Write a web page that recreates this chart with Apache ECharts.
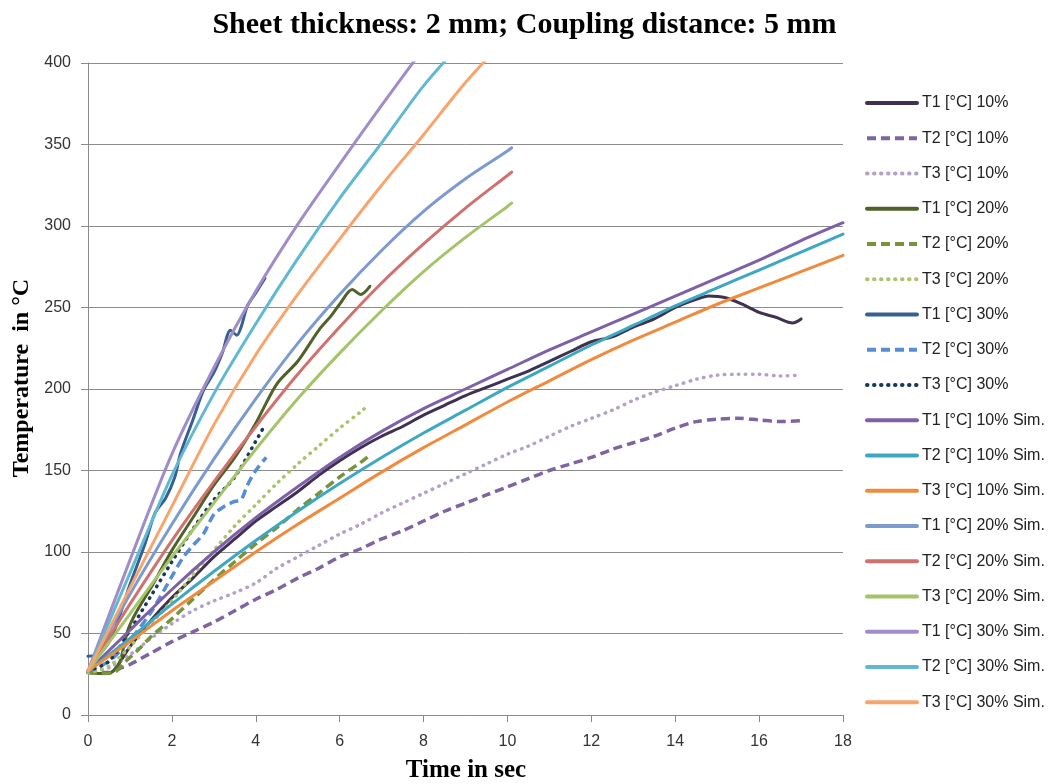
<!DOCTYPE html>
<html>
<head>
<meta charset="utf-8">
<script src="https://cdn.jsdelivr.net/npm/echarts@6/dist/echarts.min.js"></script>
<style>html,body{margin:0;padding:0;background:#fff}#c{width:1049px;height:784px}</style>
</head>
<body>
<div id="c"></div>
<script>
// ---- Data (time s, temperature °C) ----
const T1_10 = [[0,26],[0.3,25.5],[0.6,27],[1,42],[1.5,58],[2,72],[2.5,84],[3,97],[3.5,108],[4,119],[4.5,128],[5,137],[5.5,147],[6,156],[6.5,164],[7,171],[7.5,177],[8,184],[8.5,190],[9,196],[9.5,201],[10,206],[10.5,211],[11,217],[11.5,223],[12,229],[12.5,232],[13,238],[13.5,243],[14,250],[14.5,255],[14.8,257],[15.2,256],[15.6,252],[16,247],[16.4,244],[16.8,240.5],[17,243]];
const T2_10 = [[0,26],[0.5,26],[0.8,29],[1,31],[1.5,38],[2,45],[2.5,51],[3,57],[3.5,64],[4,71],[4.5,77],[5,84],[5.5,90],[6,97],[6.5,102],[7,108],[7.5,113],[8,119],[8.5,125],[9,130],[9.5,135],[10,140],[10.5,145],[11,150],[11.5,154],[12,158],[12.5,163],[13,167],[13.5,171],[14,176],[14.5,180],[15,181.5],[15.5,182],[16,181],[16.5,180],[17,180.5]];
const T3_10 = [[0,26],[0.5,29],[1,37],[1.5,47],[2,56],[2.5,64],[3,70],[3.5,75],[4,81],[4.5,90],[5,97],[5.5,104],[6,111],[6.5,117],[7,124],[7.5,130],[8,136],[8.5,142],[9,148],[9.5,154],[10,160],[10.5,165],[11,171],[11.5,177],[12,182],[12.5,187],[13,193],[13.5,198],[14,202],[14.5,206],[15,208.5],[15.5,209],[16,209],[16.5,208],[17,208.5]];
const T1_20 = [[0,26],[0.3,25.5],[0.55,26],[0.75,32],[0.95,52],[1.15,63],[1.5,78],[2,101],[2.5,121],[3,141],[3.5,158],[4,179],[4.5,203],[5,217],[5.5,236],[5.8,245],[6,252],[6.3,261],[6.5,258],[6.72,263]];
const T2_20 = [[0,26],[0.3,25.5],[0.6,26],[0.9,33],[1.2,40],[1.5,48],[2,59],[2.5,71],[3,83],[3.5,94],[4,105],[4.5,115],[5,126],[5.5,136],[6,146],[6.5,155],[6.7,159]];
const T3_20 = [[0,26],[0.5,30],[1,42],[1.5,56],[2,70],[2.5,86],[3,101],[3.5,116],[4,129],[4.5,142],[5,154],[5.5,165],[6,176],[6.5,186],[6.68,190]];
const T1_30 = [[0,36],[0.3,38],[0.6,50],[1,80],[1.36,105],[1.6,124],[1.85,133],[2.07,146],[2.2,160],[2.5,181],[2.75,199],[3,210],[3.2,222],[3.4,236],[3.55,233],[3.65,238],[3.8,251],[4,259],[4.22,268]];
const T2_30 = [[0,27],[0.5,33],[1,46],[1.5,63],[2,85],[2.25,96],[2.5,104],[2.75,111],[3,123],[3.25,128],[3.5,131],[3.65,132],[3.8,141],[4,150],[4.25,158]];
const T3_30 = [[0,27],[0.5,33],[1,52],[1.5,73],[2,94],[2.5,114],[3,132],[3.5,146],[4,168],[4.22,178]];
const T1_10S = [[0,27],[1,52],[2,77],[3,100],[4,121],[5,140],[6,158],[7,174],[8,188],[9,200],[10,212],[11,224],[12,235],[13,246],[14,257],[15,268],[16,279],[17,291],[18,302]];
const T2_10S = [[0,27],[1,47],[2,68],[3,88],[4,107],[5,125],[6,142],[7,158],[8,173],[9,187],[10,201],[11,214],[12,227],[13,239],[14,251],[15,262],[16,273],[17,284],[18,295]];
const T3_10S = [[0,27],[1,45],[2,64],[3,82],[4,100],[5,117],[6,133],[7,149],[8,164],[9,178],[10,192],[11,205],[12,218],[13,230],[14,241],[15,252],[16,262],[17,272],[18,282]];
const T1_20S = [[0,27],[1,74],[2,117],[3,157],[4,194],[5,228],[6,258],[7,285],[8,309],[9,329],[10,346],[10.1,348]];
const T2_20S = [[0,27],[1,68],[2,107],[3,143],[4,177],[5,209],[6,238],[7,265],[8,289],[9,311],[10,331],[10.1,333]];
const T3_20S = [[0,27],[1,62],[2,97],[3,130],[4,163],[5,194],[6,222],[7,248],[8,272],[9,293],[10,312],[10.1,314]];
const T1_30S = [[0,27],[1,95],[2,160],[3,213],[4,260],[5,301],[6,338],[7,374],[8,409]];
const T2_30S = [[0,27],[1,87],[2,147],[3,197],[4,240],[5,280],[6,317],[7,351],[8,386],[9,415]];
const T3_30S = [[0,27],[1,78],[2,128],[3,178],[4,221],[5,258],[6,292],[7,325],[8,356],[9,388],[10,416]];

const names = ['T1 [°C] 10%','T2 [°C] 10%','T3 [°C] 10%','T1 [°C] 20%','T2 [°C] 20%','T3 [°C] 20%','T1 [°C] 30%','T2 [°C] 30%','T3 [°C] 30%',
 'T1 [°C] 10% Sim.','T2 [°C] 10% Sim.','T3 [°C] 10% Sim.','T1 [°C] 20% Sim.','T2 [°C] 20% Sim.','T3 [°C] 20% Sim.','T1 [°C] 30% Sim.','T2 [°C] 30% Sim.','T3 [°C] 30% Sim.'];
const datasets = [T1_10,T2_10,T3_10,T1_20,T2_20,T3_20,T1_30,T2_30,T3_30,T1_10S,T2_10S,T3_10S,T1_20S,T2_20S,T3_20S,T1_30S,T2_30S,T3_30S];
const colors = ['#3F3151','#8064A2','#B3A2C7','#4F6228','#77933C','#A9C46D','#376092','#558ED5','#17375E',
 '#7F60A8','#3EA8C2','#F08A3C','#7B9BD0','#D0716E','#A5C46A','#A08CC8','#61B8D3','#F8A46C'];
const styles = ['solid','dashed','dotted','solid','dashed','dotted','solid','dashed','dotted',
 'solid','solid','solid','solid','solid','solid','solid','solid','solid'];

const series = names.map((n,i)=>{
  const st = styles[i];
  const ls = {color: colors[i], width: 3, cap: 'round', join: 'round'};
  if (st === 'dashed') { ls.type = [9,5]; ls.width = 3.5; ls.cap = 'butt'; }
  else if (st === 'dotted') { ls.type = [0.5,6.5]; ls.width = 3.5; }
  else ls.type = 'solid';
  return {
    name: n, type: 'line', data: datasets[i], symbol: 'none', showSymbol: false,
    smooth: 0.3, clip: true, lineStyle: ls, itemStyle: {color: colors[i]},
    emphasis: {disabled: true}, animation: false
  };
});

const chart = echarts.init(document.getElementById('c'), null, {renderer: 'canvas'});
chart.setOption({
  animation: false,
  backgroundColor: '#ffffff',
  title: {
    text: 'Sheet thickness: 2 mm; Coupling distance: 5 mm',
    left: 'center', top: 5,
    textStyle: {fontFamily: 'Liberation Serif', fontWeight: 'bold', fontSize: 30, color: '#000'}
  },
  grid: {left: 88, right: 206, top: 63, bottom: 69},
  legend: {
    orient: 'vertical', left: 865, top: 95, padding: 0,
    itemWidth: 50, itemHeight: 14, itemGap: 19.25,
    itemStyle: {color: 'rgba(0,0,0,0)', borderColor: 'rgba(0,0,0,0)', borderWidth: 0, opacity: 0},
    lineStyle: {width: 4},
    textStyle: {fontFamily: 'Liberation Sans', fontSize: 16, color: '#222', lineHeight: 14, padding: [0,0,0,0]},
    data: names
  },
  xAxis: {
    type: 'value', min: 0, max: 18, interval: 2,
    axisLine: {show: true, lineStyle: {color: '#8a8a8a', width: 1}},
    axisTick: {show: true, length: 7, lineStyle: {color: '#8a8a8a'}},
    axisLabel: {margin: 19, fontFamily: 'Liberation Sans', fontSize: 16, color: '#333'},
    splitLine: {show: false}
  },
  yAxis: {
    type: 'value', min: 0, max: 400, interval: 50,
    axisLine: {show: true, lineStyle: {color: '#8a8a8a', width: 1}},
    axisTick: {show: true, length: 7, lineStyle: {color: '#8a8a8a'}},
    axisLabel: {margin: 17, fontFamily: 'Liberation Sans', fontSize: 16, color: '#333'},
    splitLine: {show: true, lineStyle: {color: '#8c8c8c', width: 1}}
  },
  graphic: [
    {type: 'text', x: 22, y: 378, rotation: Math.PI/2,
     style: {text: 'Temperature  in °C', font: 'bold 24px "Liberation Serif"', fill: '#000',
             textAlign: 'center', textVerticalAlign: 'middle', align: 'center', verticalAlign: 'middle'}},
    {type: 'text', x: 466, y: 771,
     style: {text: 'Time in sec', font: 'bold 25px "Liberation Serif"', fill: '#000',
             textAlign: 'center', textVerticalAlign: 'middle', align: 'center', verticalAlign: 'middle'}}
  ],
  series: series
});
</script>
</body>
</html>
